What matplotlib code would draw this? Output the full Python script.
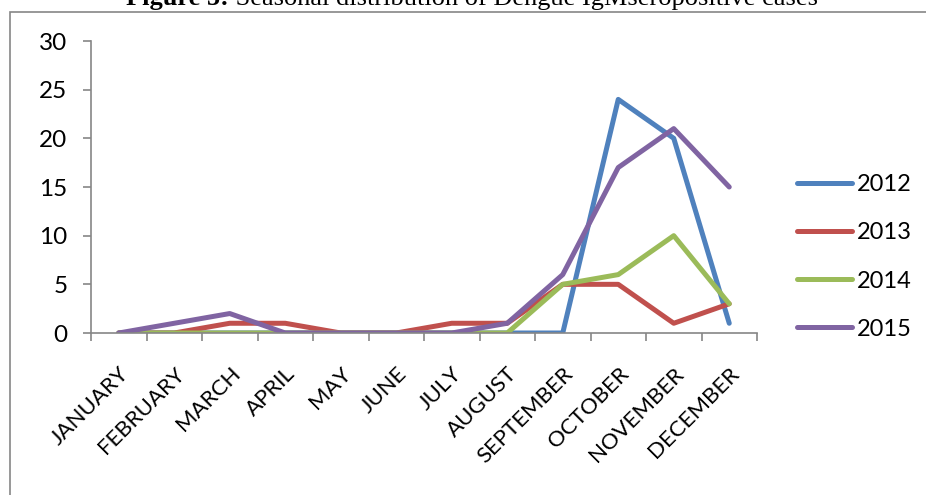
import matplotlib
matplotlib.use('Agg')
import matplotlib.pyplot as plt
from matplotlib.patches import Rectangle

plt.rcParams['font.family'] = ['Lato', 'DejaVu Sans']

# data
months = ['JANUARY', 'FEBRUARY', 'MARCH', 'APRIL', 'MAY', 'JUNE', 'JULY',
          'AUGUST', 'SEPTEMBER', 'OCTOBER', 'NOVEMBER', 'DECEMBER']
cases_2012 = [0, 0, 0, 0, 0, 0, 0, 0, 0, 24, 20, 1]
cases_2013 = [0, 0, 1, 1, 0, 0, 1, 1, 5, 5, 1, 3]
cases_2014 = [0, 0, 0, 0, 0, 0, 0, 0, 5, 6, 10, 3]
cases_2015 = [0, 1, 2, 0, 0, 0, 0, 1, 6, 17, 21, 15]
years = ['2012', '2013', '2014', '2015']
colors = ['#4F81BD', '#C0504D', '#9BBB59', '#8064A2']
yticks = [0, 5, 10, 15, 20, 25, 30]

fig = plt.figure(figsize=(9.26, 4.95), dpi=100)
ax = fig.add_axes([91/926, 1-333/495, 666/926, 292/495])

x = list(range(len(months)))
for vals, lab, c in zip([cases_2012, cases_2013, cases_2014, cases_2015], years, colors):
    ax.plot(x, vals, color=c, lw=3.6, label=lab, solid_capstyle='round',
            solid_joinstyle='round')

ax.set_xlim(-0.5, len(months) - 0.5)
ax.set_ylim(0, 30)
ax.set_yticks(yticks)
ax.set_xticks([i - 0.5 for i in range(len(months) + 1)], minor=False)
ax.set_xticklabels([])
ax.set_xticks(x, minor=True)
ax.set_xticklabels(months, minor=True, rotation=45, ha='right',
                   rotation_mode='anchor', fontsize=16)
ax.tick_params(axis='x', which='minor', length=0, pad=22)
ax.tick_params(axis='x', which='major', length=6, color='#868686', width=1.2)
ax.tick_params(axis='y', length=6, color='#868686', width=1.2, labelsize=17.5, pad=11)

for s in ['top', 'right']:
    ax.spines[s].set_visible(False)
for s in ['left', 'bottom']:
    ax.spines[s].set_color('#868686')
    ax.spines[s].set_linewidth(1.2)

leg = fig.legend(loc='center left', bbox_to_anchor=(797/926, 1-257/495),
                 frameon=False, fontsize=17, handlelength=2.33,
                 labelspacing=1.15, handletextpad=0.2,
                 borderpad=0, borderaxespad=0)
for h in leg.get_lines():
    h.set_linewidth(3.6)

# outer chart border
fig.patches.append(Rectangle((10/926, -0.05), 1.0, 1 - 12/495 + 0.05,
                             transform=fig.transFigure, fill=False,
                             edgecolor='#868686', lw=1.2))

# title partly cut off at the top
fig.canvas.draw()
r = fig.canvas.get_renderer()
t1 = fig.text(0, 1 - 5/495, 'Figure 5:', fontsize=19, fontweight='bold',
              family='Liberation Serif', va='baseline')
t2 = fig.text(0, 1 - 5/495, ' Seasonal distribution of Dengue IgMseropositive cases',
              fontsize=19, family='Liberation Serif', va='baseline')
w1 = t1.get_window_extent(r).width
w2 = t2.get_window_extent(r).width
x0 = 472 - (w1 + w2) / 2
t1.set_x(x0 / 926)
t2.set_x((x0 + w1) / 926)

fig.savefig('out.png', dpi=100)
